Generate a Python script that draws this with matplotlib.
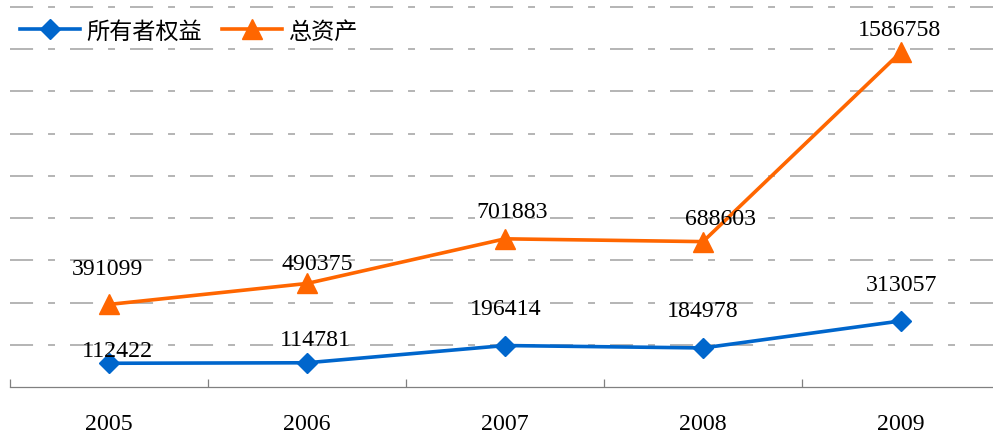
import matplotlib
matplotlib.use("Agg")
import matplotlib.pyplot as plt

years = ["2005", "2006", "2007", "2008", "2009"]
equity = [112422, 114781, 196414, 184978, 313057]
assets = [391099, 490375, 701883, 688603, 1586758]
series_names = ["所有者权益", "总资产"]

# label offsets in pixels (dx, dy to baseline)
equity_off = [(8, -7.3), (8, -17.8), (1, -31.6), (0, -32), (1, -31)]
assets_off = [(-1.5, -30.5), (10, -14.5), (7.5, -22), (18, -17.7), (-2, -17)]

plt.rcParams['lines.scale_dashes'] = False
W, H = 993, 439
fig = plt.figure(figsize=(W / 100, H / 100), dpi=100)
ax = fig.add_axes([10 / W, (H - 388) / H, 990 / W, 380 / H])

x = list(range(len(years)))
blue = "#0066CC"
orange = "#FF6600"
ax.plot(x, equity, color=blue, lw=2.6, marker="D", ms=10.2, label=series_names[0], clip_on=False, zorder=3)
ax.plot(x, assets, color=orange, lw=2.6, marker="^", ms=15, label=series_names[1], clip_on=False, zorder=3)

ax.set_xlim(-0.5, 4.5)
ax.set_ylim(0, 1800000)
ax.set_yticks(range(200000, 1800001, 200000))
ax.tick_params(axis='y', length=0, labelleft=False)
ax.grid(axis='y', color="#A0A0A0", lw=1.1, dashes=(16.6, 10.8, 5.0, 10.8))
for gl in ax.get_ygridlines():
    gl.set_clip_on(False)
ax.set_axisbelow(True)

for s in ["top", "right", "left"]:
    ax.spines[s].set_visible(False)
ax.spines["bottom"].set_color("#808080")
ax.spines["bottom"].set_linewidth(0.9)

ax.set_xticks(x)
ax.set_xticklabels(years, fontfamily="Liberation Serif", fontsize=17.2)
ax.tick_params(axis='x', which='major', length=0, pad=19)
ax.set_xticks([i - 0.5 for i in range(len(years) + 1)], minor=True)
ax.tick_params(axis='x', which='minor', length=5.5, direction='in', color="#808080", width=0.9)

for xi, v, (dx, dy) in zip(x, equity, equity_off):
    ax.annotate(f"{v}", (xi, v), xytext=(dx * 0.72, -dy * 0.72), textcoords="offset points",
                ha="center", va="baseline", fontfamily="Liberation Serif", fontsize=17.2, zorder=4)
for xi, v, (dx, dy) in zip(x, assets, assets_off):
    ax.annotate(f"{v}", (xi, v), xytext=(dx * 0.72, -dy * 0.72), textcoords="offset points",
                ha="center", va="baseline", fontfamily="Liberation Serif", fontsize=17.2, zorder=4)

leg = fig.legend(loc="center left", bbox_to_anchor=(20 / W, 1 - 32 / H), ncol=2, frameon=False,
                 prop={"family": ["Noto Sans CJK SC", "DejaVu Sans"], "size": 16.7},
                 handlelength=2.6, handletextpad=0.26, columnspacing=0.86,
                 borderpad=0, borderaxespad=0)

fig.savefig("out.png", dpi=100)
